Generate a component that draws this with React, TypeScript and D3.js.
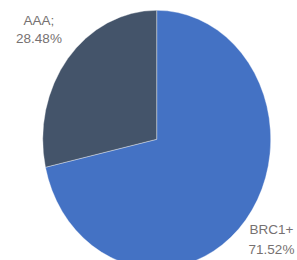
import React from "react";
import * as d3 from "d3";

const categories = ["BRC1+", "AAA"];
const values = [71.52, 28.48];
const labelTexts = ["71.52%", "28.48%"];
const colors = ["#4472C4", "#44546A"];

export default function App() {
  const W = 297, H = 260;
  const cx = 156.7, cy = 139.3, rx = 114, ry = 129;
  const pie = d3.pie<number>().sort(null).value((d) => d);
  const arcs = pie(values);
  const arc = d3.arc<d3.PieArcDatum<number>>().innerRadius(0).outerRadius(1);
  const labelPos = [
    { x: 271.5, y1: 233.5, y2: 254 },
    { x: 39, y1: 25, y2: 43 },
  ];
  return (
    <svg width={W} height={H} style={{ position: "absolute", left: 0, top: 0 }}>
      <rect width={W} height={H} fill="#fff" />
      <g transform={`translate(${cx},${cy}) scale(${rx},${ry})`}>
        {arcs.map((a, i) => (
          <path key={i} d={arc(a) || ""} fill={colors[i]} stroke="#fff" strokeOpacity={0.6} strokeWidth={0.6} vectorEffect="non-scaling-stroke" />
        ))}
      </g>
      {categories.map((c, i) => (
        <text key={c} x={labelPos[i].x} textAnchor="middle" fill="#767171" fontFamily="Liberation Sans, Arial, sans-serif" fontSize={13.5}>
          <tspan x={labelPos[i].x} y={labelPos[i].y1}>{c === "AAA" ? "AAA;" : c}</tspan>
          <tspan x={labelPos[i].x} y={labelPos[i].y2}>{labelTexts[i]}</tspan>
        </text>
      ))}
    </svg>
  );
}
